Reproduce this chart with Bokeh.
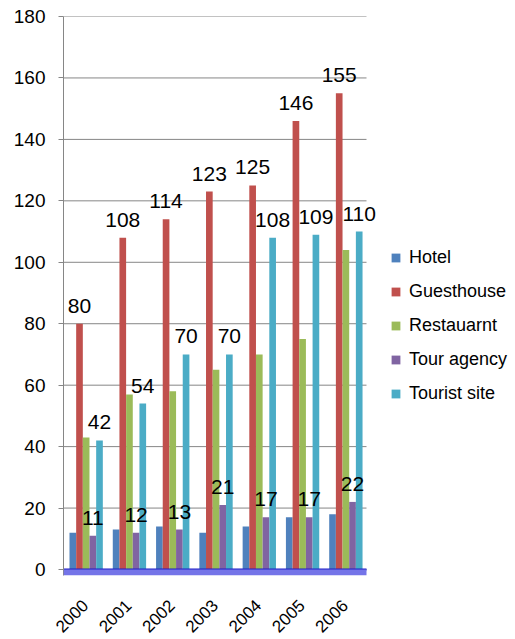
import math
from bokeh.plotting import figure
from bokeh.core.properties import value
from bokeh.models import (Range1d, FixedTicker, Legend, LegendItem,
                          LabelSet, ColumnDataSource, BoxAnnotation)
from bokeh.transform import dodge
from bokeh.embed import file_html
from bokeh.resources import INLINE

years = ["2000", "2001", "2002", "2003", "2004", "2005", "2006"]
hotel = [12, 13, 14, 12, 14, 17, 18]
guesthouse = [80, 108, 114, 123, 125, 146, 155]
restaurant = [43, 57, 58, 65, 70, 75, 104]
tour_agency = [11, 12, 13, 21, 17, 17, 22]
tourist_site = [42, 54, 70, 70, 108, 109, 110]
series_names = ["Hotel", "Guesthouse", "Restauarnt", "Tour agency", "Tourist site"]
series_keys = ["hotel", "guesthouse", "restaurant", "tour_agency", "tourist_site"]
colors = ["#4F81BD", "#C0504D", "#9BBB59", "#8064A2", "#4BACC6"]
labelled = ["guesthouse", "tour_agency", "tourist_site"]
y_ticks = [0, 20, 40, 60, 80, 100, 120, 140, 160, 180]

FONT = "Arial"
N = len(years)
CAT_PX = 303 / 7.0
FRAME_W = 451

xc = [i + 0.5 for i in range(N)]
data = dict(year=years, xc=xc, hotel=hotel, guesthouse=guesthouse, restaurant=restaurant,
            tour_agency=tour_agency, tourist_site=tourist_site)
for k in labelled:
    data[k + "_txt"] = [str(v) for v in data[k]]
src = ColumnDataSource(data)

p = figure(x_range=Range1d(0, FRAME_W / CAT_PX), y_range=Range1d(-1.95, 180),
           frame_width=FRAME_W, frame_height=559,
           min_border_left=63, min_border_top=16, min_border_bottom=55, min_border_right=0,
           output_backend="svg", toolbar_location=None)
p.outline_line_color = None
p.background_fill_color = "white"
p.border_fill_color = "white"
p.xgrid.grid_line_color = None
p.ygrid.grid_line_color = None

# horizontal gridlines across the category area only
gsrc = ColumnDataSource(dict(y=y_ticks, x0=[0] * len(y_ticks), x1=[N] * len(y_ticks)))
p.segment(x0="x0", x1="x1", y0="y", y1="y", source=gsrc, line_color="#868686", line_width=1)

offsets = [-0.2845, -0.1305, 0.0235, 0.1775, 0.3315]
bar_w = 0.154
renderers = []
for key, col, off in zip(series_keys, colors, offsets):
    r = p.vbar(x=dodge("xc", off), top=key, width=bar_w,
               bottom=0, source=src, fill_color=col, line_color=None)
    renderers.append(r)

for key, off in zip(series_keys, offsets):
    if key in labelled:
        ls = LabelSet(x=dodge("xc", off), y=key, text=key + "_txt",
                      source=src, text_align="center", text_baseline="alphabetic",
                      y_offset=11, text_font=value(FONT), text_font_size=value("21px"),
                      text_color=value("black"))
        p.add_layout(ls)

# floor
p.add_layout(BoxAnnotation(left=0, right=N, bottom=-1.95, top=0, fill_color="#7474E8",
                           fill_alpha=1.0, line_color=None, level="overlay"))
p.segment(x0=[0], x1=[N], y0=[0], y1=[0], line_color="#1E1EC8", line_width=2)

# y axis
p.yaxis.ticker = FixedTicker(ticks=y_ticks)
p.yaxis.axis_line_color = "#868686"
p.yaxis.major_tick_line_color = "#868686"
p.yaxis.major_tick_out = 5
p.yaxis.major_tick_in = 0
p.yaxis.minor_tick_line_color = None
p.yaxis.major_label_standoff = 13
p.yaxis.major_label_text_font = FONT
p.yaxis.major_label_text_font_size = "19px"
p.yaxis.major_label_text_color = "black"

# x axis
p.xaxis.ticker = FixedTicker(ticks=xc)
p.xaxis.major_label_overrides = {x: y for x, y in zip(xc, years)}
p.xaxis.axis_line_color = None
p.xaxis.major_tick_line_color = None
p.xaxis.minor_tick_line_color = None
p.xaxis.major_tick_out = 0
p.xaxis.major_label_orientation = math.pi / 4
p.xaxis.major_label_standoff = 27
p.xaxis.major_label_text_font = FONT
p.xaxis.major_label_text_font_size = "17px"
p.xaxis.major_label_text_color = "black"

legend = Legend(items=[LegendItem(label=n, renderers=[r]) for n, r in zip(series_names, renderers)],
                location=(327, 171), orientation="vertical",
                glyph_width=11, glyph_height=11, label_height=21, spacing=13,
                label_standoff=8, padding=0, margin=0,
                border_line_color=None, background_fill_alpha=0,
                label_text_font=FONT, label_text_font_size="18px",
                label_text_color="black")
p.add_layout(legend)

open("out.html", "w").write(file_html(p, INLINE))
